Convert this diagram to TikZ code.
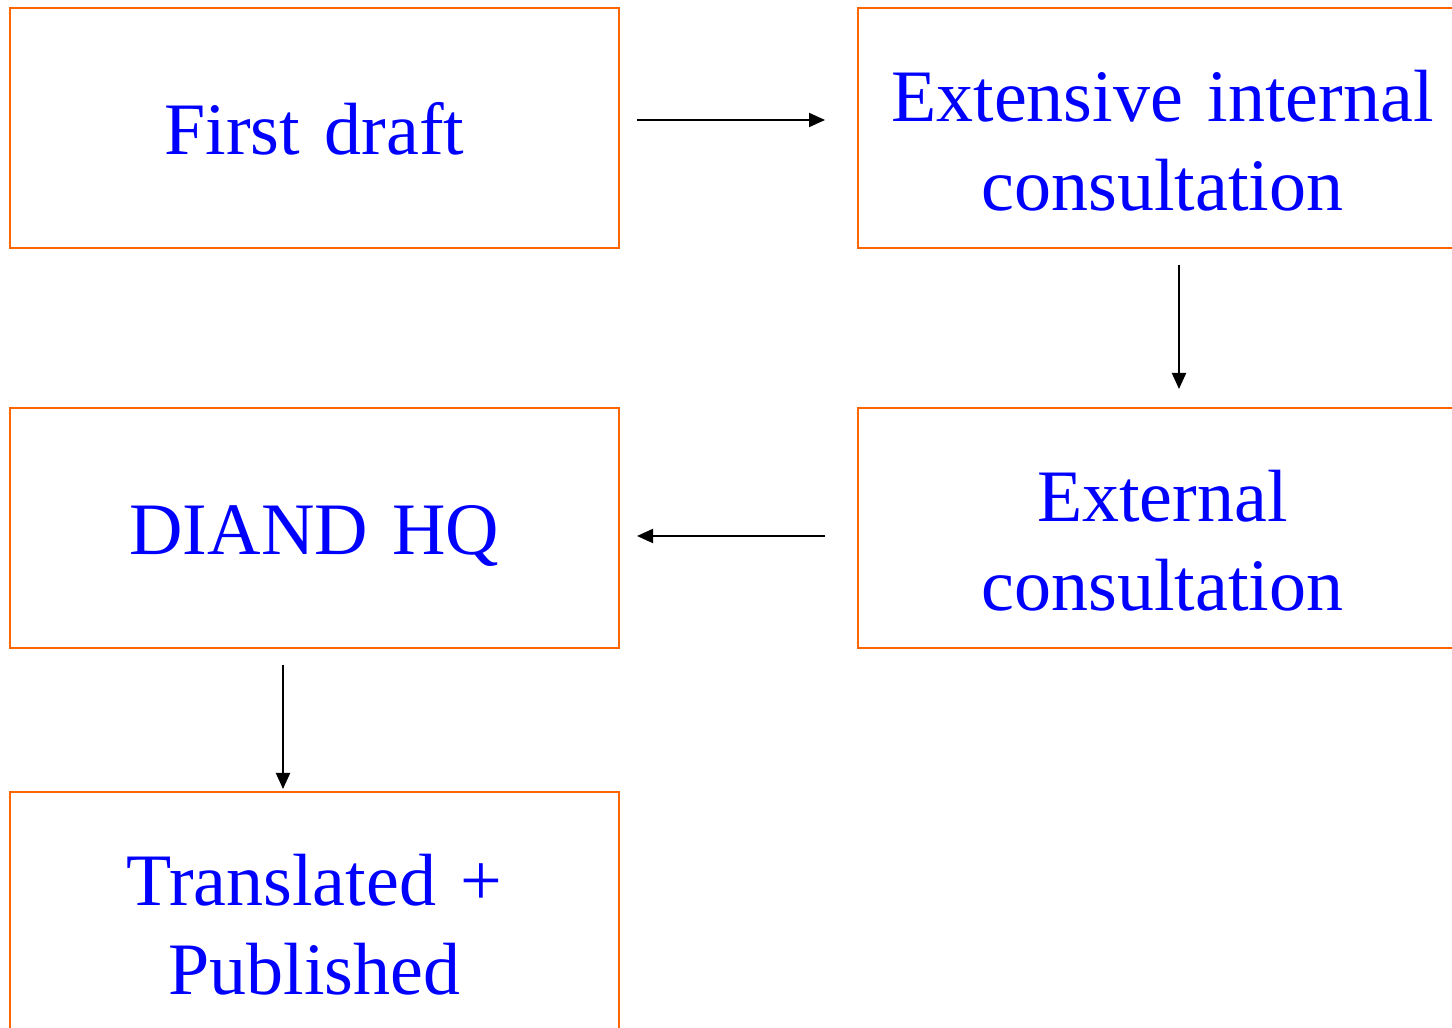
\documentclass[tikz,border=0pt]{standalone}
\usepackage{fontspec}
\setmainfont{Liberation Serif}
\usetikzlibrary{arrows.meta}
\definecolor{boxorange}{RGB}{255,102,0}
\definecolor{txtblue}{RGB}{0,0,255}
\begin{document}
\begin{tikzpicture}[x=1pt,y=1pt,
  stage/.style={draw=boxorange,line width=2pt,minimum width=609pt,minimum height=240pt,
    text width=600pt,align=center,inner sep=0pt,text=txtblue,
    font=\fontsize{74}{89}\selectfont},
  oneline/.style={text height=54pt,text depth=0pt},
  twoline/.style={text height=77pt,text depth=89pt},
  flow/.style={line width=2pt,-{Triangle[length=16pt,width=14pt]}}]
\useasboundingbox (0,0) rectangle (1452,1028);
\clip (0,0) rectangle (1452,1028);
\fill[white] (0,0) rectangle (1452,1028);
\node[stage,oneline] (fd) at (314.5,900) {First draft};
\node[stage,twoline] (ext) at (1162.5,900) {Extensive internal\\consultation};
\node[stage,oneline] (hq) at (314.5,500) {DIAND HQ};
\node[stage,twoline] (exc) at (1162.5,500) {External\\consultation};
\node[stage,twoline] (tp) at (314.5,116) {Translated +\\Published};
\draw[flow,shorten <=17pt,shorten >=32pt] ([yshift=8pt]fd.east) -- ([yshift=8pt]ext.west);
\draw[flow,shorten <=16pt,shorten >=18pt] ([xshift=16.5pt]ext.south) -- ([xshift=16.5pt]exc.north);
\draw[flow,shorten <=32pt,shorten >=17pt] ([yshift=-8pt]exc.west) -- ([yshift=-8pt]hq.east);
\draw[flow,shorten <=16pt,shorten >=2pt] ([xshift=-31.5pt]hq.south) -- ([xshift=-31.5pt]tp.north);
\end{tikzpicture}
\end{document}
